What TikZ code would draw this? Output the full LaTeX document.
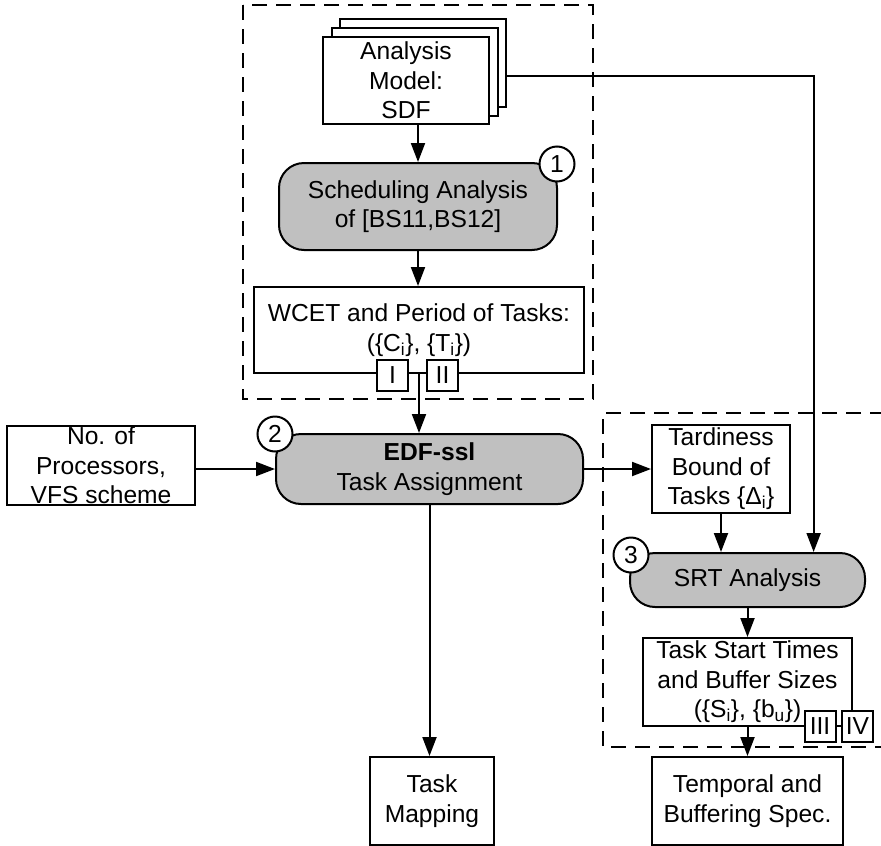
\documentclass[tikz,border=0pt]{standalone}
\usepackage{fontspec}
\setmainfont{Liberation Sans}
\usetikzlibrary{arrows.meta,calc}
\definecolor{boxgray}{RGB}{192,192,192}
\begin{document}
\begin{tikzpicture}[x=1pt,y=-1pt,
  every node/.style={font=\fontsize{24.6pt}{29.5pt}\selectfont, inner sep=0pt, align=center},
  plain/.style={draw, line width=2pt, fill=white, rectangle},
  proc/.style={draw, line width=2pt, fill=boxgray, rounded corners=25pt},
  tag/.style={draw, line width=2pt, fill=white, circle, minimum size=35pt},
  mark box/.style={draw, line width=2pt, fill=white, minimum width=31pt, minimum height=31pt},
  conn/.style={line width=2pt, -{Triangle[length=19pt,width=14pt]}},
  grp/.style={line width=2pt, dash pattern=on 15pt off 9pt}
]
\useasboundingbox (0,0) rectangle (881,846);

% group boxes
\draw[grp] (243,5) rectangle (593,399);
\draw[grp] (885,413) -- (603,413) -- (603,747) -- (885,747);

% analysis model stack
\node[plain, minimum width=166pt, minimum height=88pt] (stack3) at (423,63) {};
\node[plain, minimum width=166pt, minimum height=88pt] (stack2) at (414.5,72) {};
\node[plain, minimum width=166pt, minimum height=87pt] (amodel) at (406,80.5) {Analysis\\Model:\\SDF};

\node[proc, minimum width=278pt, minimum height=87pt] (sched) at (418,206.5) {Scheduling Analysis\\of [BS11,BS12]};
\node[tag] (c1) at (557,164) {1};

\node[plain, minimum width=330pt, minimum height=86pt] (wcet) at (419,330) {WCET and Period of Tasks:\\(\{C\textsubscript{i}\}, \{T\textsubscript{i}\})};
\node[mark box] (bI) at (392.5,375.5) {I};
\node[mark box] (bII) at (442.5,375.5) {II};

\node[proc, minimum width=307pt, minimum height=70pt] (edf) at (429.5,469) {\textbf{EDF-ssl}\\Task Assignment};
\node[tag] (c2) at (275,434) {2};

\node[plain, minimum width=188pt, minimum height=79pt] (nproc) at (101,465.5) {No. of\\Processors,\\VFS scheme};

\node[plain, minimum width=138pt, minimum height=88pt] (tard) at (721,469) {Tardiness\\Bound of\\Tasks \{Δ\textsubscript{i}\}};

\node[proc, minimum width=235pt, minimum height=54pt] (srt) at (747.5,580) {SRT Analysis};
\node[tag] (c3) at (631,555) {3};

\node[plain, minimum width=209pt, minimum height=88pt] (tstart) at (747.5,682) {Task Start Times\\and Buffer Sizes\\(\{S\textsubscript{i}\}, \{b\textsubscript{u}\})};
\node[mark box] (bIII) at (820,726.5) {III};
\node[mark box] (bIV) at (857.5,726.5) {IV};

\node[plain, minimum width=191pt, minimum height=88pt] (temporal) at (747.5,801) {Temporal and\\Buffering Spec.};
\node[plain, minimum width=124pt, minimum height=88pt] (tmap) at (432,801) {Task\\Mapping};

% connectors
\draw[conn] (amodel.south -| sched.north) -- (sched.north);
\draw[conn] (sched.south) -- (sched.south |- wcet.north);
\draw[conn] (wcet.south) -- (wcet.south |- edf.north);
\draw[conn] (nproc.east |- edf.west) -- (edf.west);
\draw[conn] (edf.east) -- (tard.west);
\draw[conn] (edf.south) -- (edf.south |- tmap.north);
\draw[conn] (tard.south) -- (tard.south |- srt.north);
\coordinate (srtin) at ($(srt.north west)!0.779!(srt.north east)$);
\draw[conn] ([yshift=-13pt]stack3.east) -| (srtin);
\draw[conn] (srt.south) -- (tstart.north);
\draw[conn] (tstart.south) -- (temporal.north);
\end{tikzpicture}
\end{document}
